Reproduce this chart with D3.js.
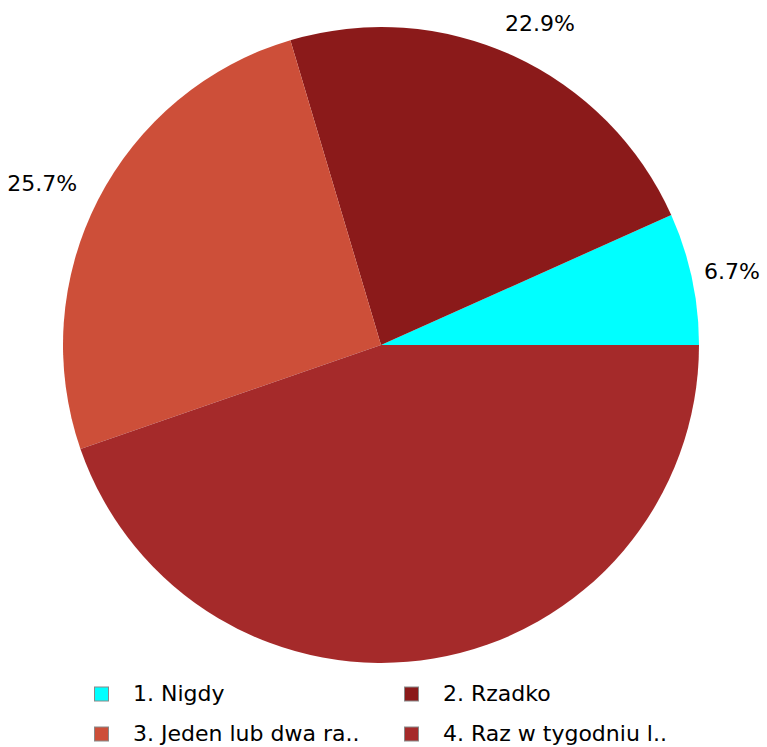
<!DOCTYPE html>
<html>
<head>
<meta charset="utf-8">
<script src="https://cdn.jsdelivr.net/npm/d3@7"></script>
<style>
  html, body { margin: 0; padding: 0; background: #fff; }
  svg { display: block; font-family: "DejaVu Sans", sans-serif; }
</style>
</head>
<body>
<svg id="chart" width="767" height="747"></svg>
<script>
// answers and their share (percent)
const categories = ["1. Nigdy", "2. Rzadko", "3. Jeden lub dwa ra..", "4. Raz w tygodniu l.."];
const values = [6.7, 22.9, 25.7, 44.7];
const labels = ["6.7%", "22.9%", "25.7%", ""];
const colors = ["#00ffff", "#8b1a1a", "#cd4f39", "#a52a2a"];

const chart = {

    width : 767,
    cx : 381,
    cy : 345,
    radius : 318,
    labelRadius : 346,
    fontSize : 22,

    draw : function() {

        const svg = d3.select("#chart");

        const data = categories.map((c, i) => ({ name : c, value : values[i], label : labels[i], color : colors[i] }));

        // start at 3 o'clock, go counterclockwise
        const pie = d3.pie()
            .sort(null)
            .value(d => d.value)
            .startAngle(Math.PI / 2)
            .endAngle(Math.PI / 2 - 2 * Math.PI);

        const arc = d3.arc().innerRadius(0).outerRadius(this.radius);

        const g = svg.append("g").attr("transform", `translate(${this.cx},${this.cy})`);

        g.selectAll("path")
          .data(pie(data))
          .join("path")
          .attr("d", arc)
          .attr("fill", d => d.data.color);

        // labels sit just outside the pie, box pushed away from the centre,
        // kept inside the picture
        const R = this.labelRadius;
        const maxX = this.width - this.cx - 7;
        g.selectAll("text")
          .data(pie(data))
          .join("text")
          .attr("text-anchor", "middle")
          .attr("dy", "0.36em")
          .attr("font-size", this.fontSize)
          .attr("fill", "#000")
          .text(d => d.data.label)
          .each(function(d) {
              const a = (d.startAngle + d.endAngle) / 2;
              const sx = Math.sin(a), sy = -Math.cos(a);
              const box = this.getBBox();
              let x = sx * R + sx * box.width / 2;
              x = Math.min(x, maxX - box.width / 2);
              const y = sy * R + sy * 8;
              d3.select(this).attr("x", x).attr("y", y);
          });

        // legend, two columns
        const legend = svg.append("g");
        const col = [94, 404];
        const row = [694, 734];

        const item = legend.selectAll("g")
          .data(data)
          .join("g")
          .attr("transform", (d, i) => `translate(${col[i % 2]},${row[Math.floor(i / 2)]})`);

        item.append("rect")
          .attr("x", 0.5)
          .attr("y", -7)
          .attr("width", 14)
          .attr("height", 14)
          .attr("fill", d => d.color)
          .attr("stroke", "#888")
          .attr("stroke-width", 1);

        item.append("text")
          .attr("x", 39)
          .attr("dy", "0.33em")
          .attr("font-size", this.fontSize)
          .attr("fill", "#000")
          .text(d => d.name);
    }
}

chart.draw();
</script>
</body>
</html>
